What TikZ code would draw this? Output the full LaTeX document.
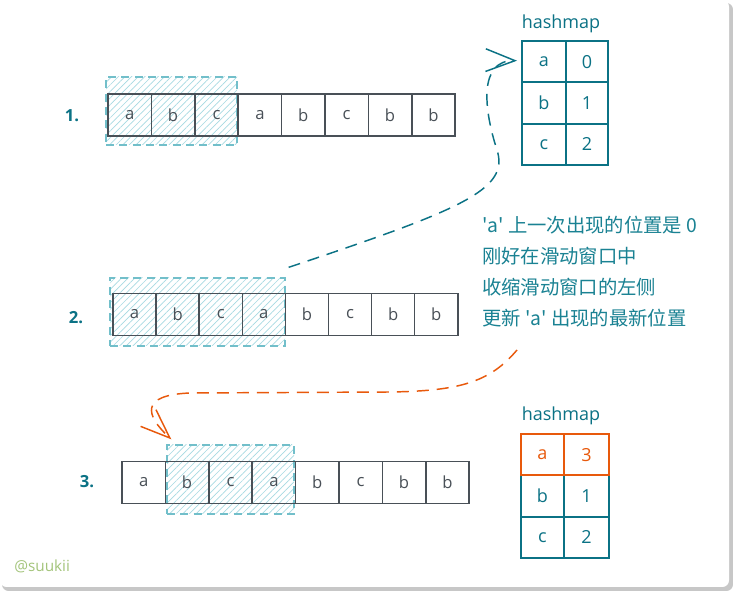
\documentclass[tikz,border=0pt]{standalone}
\usepackage{fontspec}
\setmainfont{Open Sans}
\newfontfamily\cjk{Noto Sans CJK SC}
\usetikzlibrary{patterns.meta,arrows.meta,calc}
\definecolor{tealc}{HTML}{0B7285}
\definecolor{tealtext}{HTML}{1A8293}
\definecolor{hatchc}{HTML}{A6DAE2}
\definecolor{hlborder}{HTML}{72BFCA}
\definecolor{cellgray}{HTML}{495057}
\definecolor{orng}{HTML}{E8590C}
\definecolor{wmc}{HTML}{A3C47A}
\begin{document}
\begin{tikzpicture}[x=0.75pt,y=-0.75pt,
  cell/.style={draw=cellgray, line width=1.1pt, minimum height=31.3pt, inner sep=0pt,
    font=\fontsize{12.5}{14}\selectfont, text=cellgray},
  hmcell/.style={draw=tealc, line width=1.5pt, minimum height=31pt, inner sep=0pt,
    font=\fontsize{13.5}{15}\selectfont, text=tealc},
  hmhot/.style={hmcell, draw=orng, text=orng},
  hlbox/.style={draw=hlborder, line width=1pt, dash pattern=on 6pt off 4pt,
    pattern={Lines[angle=45,distance=3.5pt,line width=0.5pt]}, pattern color=hatchc,
    inner sep=0pt, minimum height=51pt},
  rowlbl/.style={text=tealc, font=\fontsize{12.5}{14}\selectfont\bfseries},
  hmlbl/.style={text=tealc, font=\fontsize{13.5}{15}\selectfont},
  note/.style={text=tealtext, anchor=west, inner sep=0pt, font=\fontsize{14.5}{17}\selectfont\cjk},
  conn/.style={line width=1.1pt, dash pattern=on 9pt off 6pt,
    -{Straight Barb[length=22pt,width=17pt,line width=1.1pt]}},
]
\useasboundingbox (0,0) rectangle (733,591);
% card
\fill[black!22, rounded corners=5pt] (2,3) rectangle (733,591);
\fill[white, rounded corners=5pt] (0,0) rectangle (729,587);

% highlight windows
\node[hlbox, minimum width=98.25pt] (hl1) at (171.5,111) {};
\node[hlbox, minimum width=131.25pt] (hl2) at (197.5,312) {};
\node[hlbox, minimum width=95.25pt, minimum height=51.75pt] (hl3) at (230.5,479.5) {};

% rows
\foreach \l [count=\i] in {a,b,c,a,b,c,b,b}{
  \node[cell, minimum width=32.55pt] (ra\i) at ({108+43.4*(\i-0.5)},115) {\l};
  \node[cell, minimum width=32.3pt] (rb\i) at ({113+43.1*(\i-0.5)},314.5) {\l};
  \node[cell, minimum width=32.55pt] (rc\i) at ({122+43.4*(\i-0.5)},482.5) {\l};
}
\node[rowlbl] (l1) at (72,116) {1.};
\node[rowlbl] (l2) at (76,318) {2.};
\node[rowlbl] (l3) at (87,482) {3.};

% hashmap 1
\node[hmlbl] (hmt1) at (561,24) {hashmap};
\node[hmcell, minimum width=33pt] (ha1) at (544,61.7) {a};
\node[hmcell, minimum width=31.5pt] (hv1) at (587,61.7) {0};
\node[hmcell, minimum width=33pt] (ha2) at (544,103) {b};
\node[hmcell, minimum width=31.5pt] (hv2) at (587,103) {1};
\node[hmcell, minimum width=33pt] (ha3) at (544,144.3) {c};
\node[hmcell, minimum width=31.5pt] (hv3) at (587,144.3) {2};

% hashmap 2
\node[hmlbl] (hmt2) at (561,416) {hashmap};
\node[hmcell, minimum width=32.25pt] (hb2) at (542.5,496) {b};
\node[hmcell, minimum width=33.75pt] (hw2) at (586.5,496) {1};
\node[hmcell, minimum width=32.25pt] (hb3) at (542.5,537.3) {c};
\node[hmcell, minimum width=33.75pt] (hw3) at (586.5,537.3) {2};
\node[hmhot, minimum width=32.25pt] (hb1) at (542.5,454.7) {a};
\node[hmhot, minimum width=33.75pt] (hw1) at (586.5,454.7) {3};

% note text
\node[note] (t1) at (482,225) {'a'\ 上一次出现的位置是\ 0};
\node[note] (t2) at (482,256) {刚好在滑动窗口中};
\node[note] (t3) at (482,287) {收缩滑动窗口的左侧};
\node[note] (t4) at (482,318) {更新\ 'a'\ 出现的最新位置};

% connectors
\coordinate (s1) at ($(hl2.north east)+(3,-10)$);
\coordinate (e1) at ($(ha1.west)+(-4,-1)$);
\draw[conn, draw=tealc] (s1) .. controls (460,210) and (510,190) .. (497,150)
   .. controls (484,110) and (478,60) .. (e1);
\coordinate (s2) at (517,350);
\coordinate (e2) at ($(hl3.north west)+(5,-5)$);
\draw[conn, draw=orng] (s2) .. controls (490,382) and (460,391) .. (390,392)
   -- (190,393) .. controls (140,395) and (145,415) .. (e2);

% watermark
\node[text=wmc, font=\fontsize{11.5}{13}\selectfont, anchor=west, inner sep=0pt] (wm) at (14,566) {@suukii};
\end{tikzpicture}
\end{document}
